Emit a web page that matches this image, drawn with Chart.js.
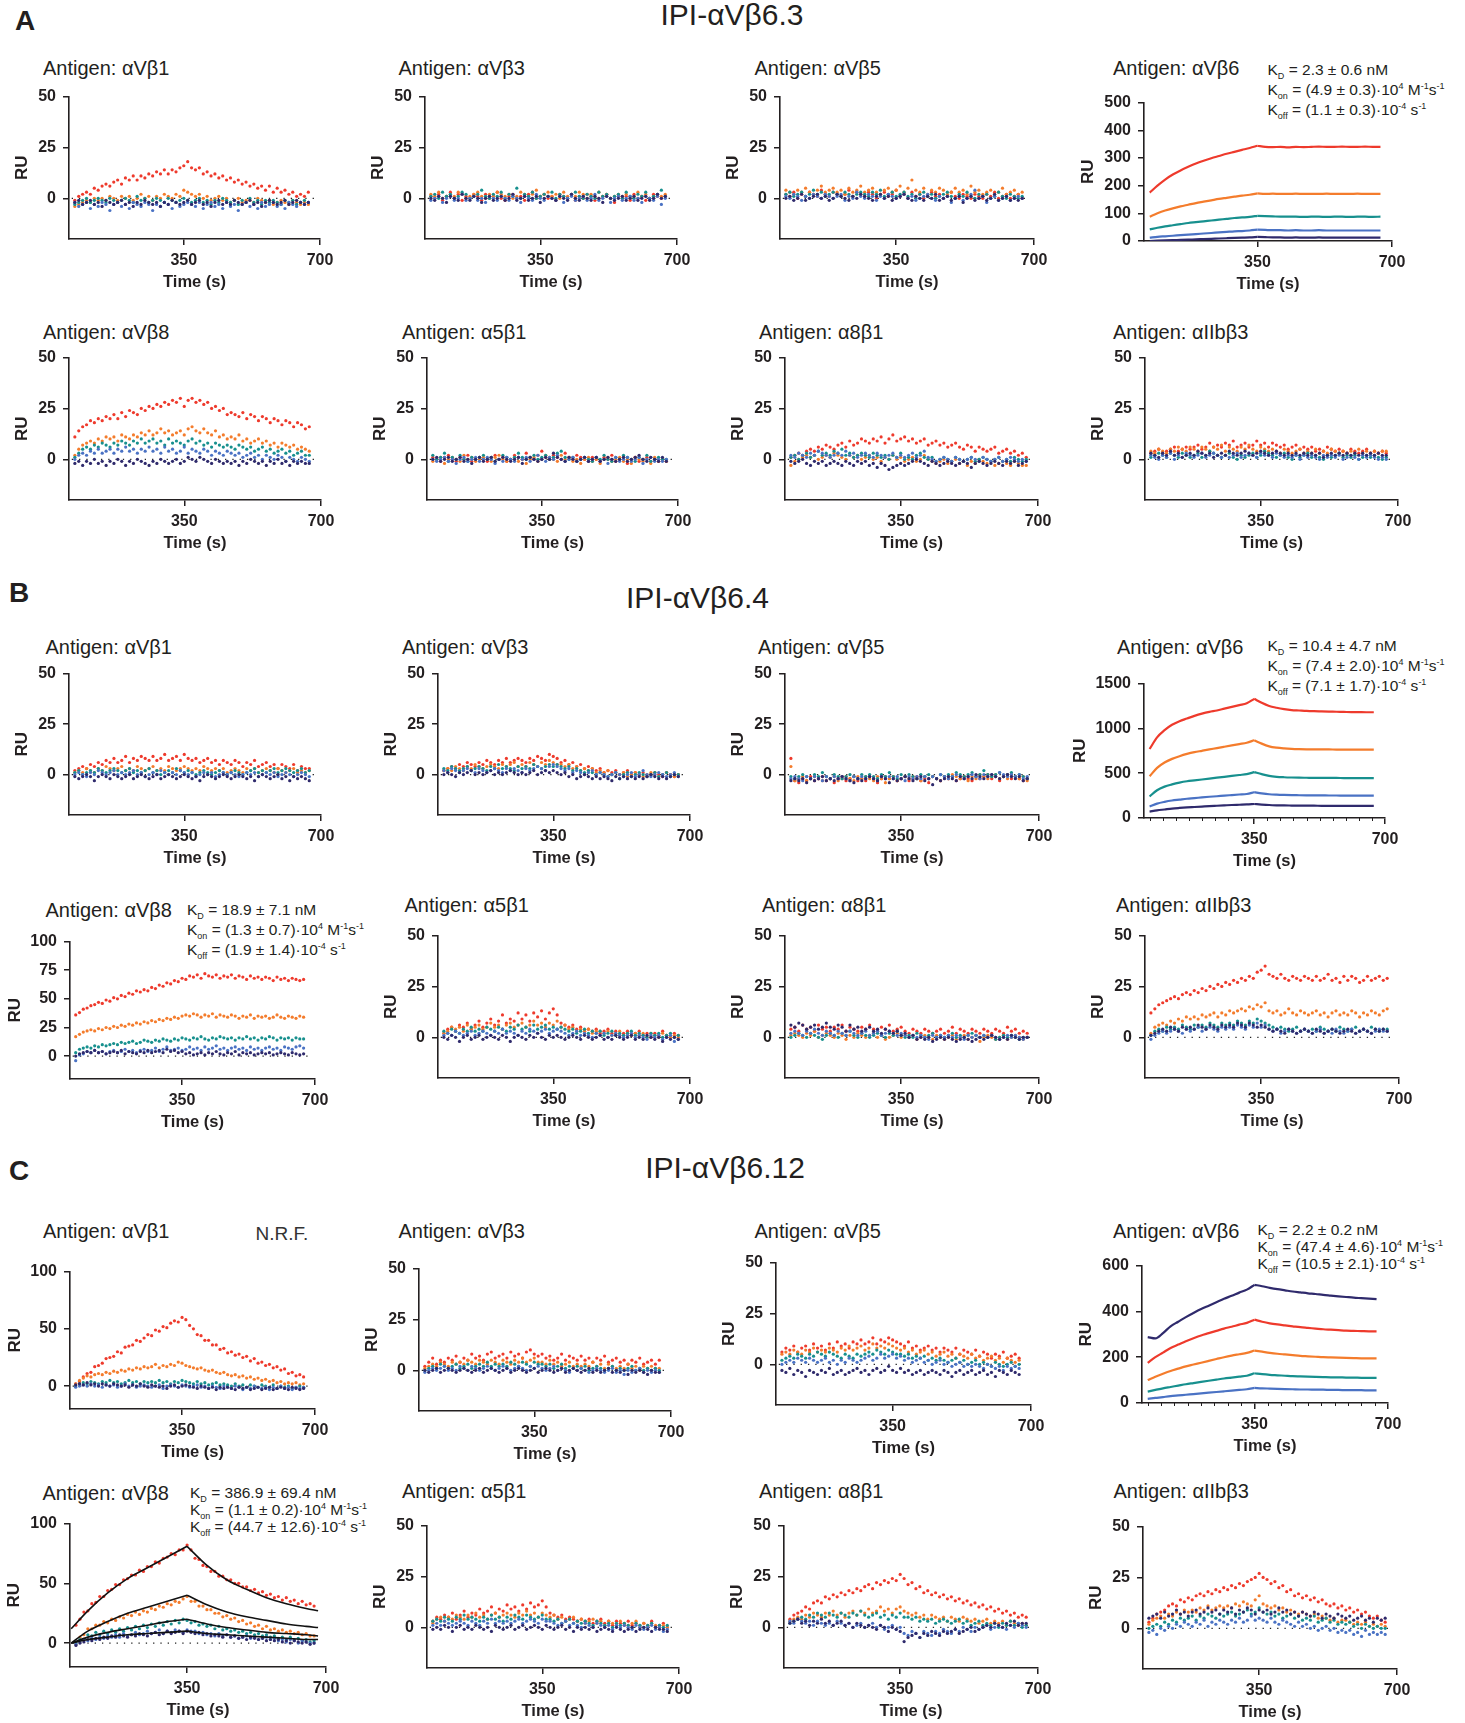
<!DOCTYPE html>
<html>
<head>
<meta charset="utf-8">
<script src="https://cdn.jsdelivr.net/npm/chart.js@4.4.1/dist/chart.umd.min.js"></script>
<style>
body { margin:0; background:#fff; }
#page { position:relative; width:1465px; height:1723px; overflow:hidden; font-family:'Liberation Sans', Arial, Helvetica, sans-serif; color:#231f20; }
canvas { position:absolute; }
.lbl { position:absolute; line-height:1; white-space:nowrap; transform:translateY(-50%); }
.letter { font-weight:bold; font-size:28px; }
.head { font-size:30px; transform:translate(-50%,-50%); }
.ptitle { font-size:20px; }
.nrf { font-size:19px; color:#333; }
.ann { font-size:15.5px; }
.ann sub { font-size:9px; vertical-align:-4px; line-height:0; }
.ann sup { font-size:9px; vertical-align:6px; line-height:0; }
</style>
</head>
<body>
<div id="page"></div>
<script>
// sample times (s): dotted traces every 10 s, smooth traces every 20 s
const t = [70, 80, 90, 100, 110, 120, 130, 140, 150, 160, 170, 180, 190, 200, 210, 220, 230, 240, 250, 260,
           270, 280, 290, 300, 310, 320, 330, 340, 350, 360, 370, 380, 390, 400, 410, 420, 430, 440, 450, 460,
           470, 480, 490, 500, 510, 520, 530, 540, 550, 560, 570, 580, 590, 600, 610, 620, 630, 640, 650, 660, 670];
const tLine = [70, 90, 110, 130, 150, 170, 190, 210, 230, 250, 270, 290, 310, 330, 350,
               370, 390, 410, 430, 450, 470, 490, 510, 530, 550, 570, 590, 610, 630, 650, 670];

const antibodies = ['IPI-αVβ6.3', 'IPI-αVβ6.4', 'IPI-αVβ6.12'];
const antigens = ['αVβ1', 'αVβ3', 'αVβ5', 'αVβ6', 'αVβ8', 'α5β1', 'α8β1', 'αIIbβ3'];
const concColors = ['#ee3a2c', '#f47c2c', '#17908e', '#4a72c4', '#2f2a6c']; // high -> low

const xTicks = [350, 700];
const xMinorTicks = [70, 105, 140, 175, 210, 245, 280, 315, 385, 420, 455, 490, 525, 560, 595, 630, 665];
const yTicks50 = [0, 25, 50];
const yTicks100 = [0, 25, 50, 75, 100];
const yTicks100b = [0, 50, 100];
const yTicks500 = [0, 100, 200, 300, 400, 500];
const yTicks1500 = [0, 500, 1000, 1500];
const yTicks600 = [0, 200, 400, 600];

// dotted zero reference line
const baseT = [62, 685];
const baseY = [0, 0];

// ---- IPI-aVb6.3 ---- each panel: [red, orange, teal, blue, purple]
const a1 = [
  [-1, 1, 2, 3, 2, 5, 4, 6, 7, 6, 8, 9, 7, 10, 9, 11, 9, 11, 10, 12, 11, 13, 12, 14, 12, 14, 13, 15, 16, 18, 15, 14, 15, 12, 13, 11, 12, 10, 11, 9, 10, 8, 9, 7, 8, 6, 7, 5, 6, 4, 6, 3, 5, 3, 4, 2, 3, 1, 2, 1, 3],
  [-4, -3, -2, -1, -2, 0, -1, 0, -1, 1, 0, -1, 1, 0, 1, -1, 0, 2, 0, 1, -1, 1, 0, 2, 1, 0, 2, 1, 4, 3, 2, 1, 2, 0, 1, -1, 0, 1, -1, 0, -2, -1, 0, -2, -1, -1, -2, 0, -1, -2, -1, -3, -2, -1, -2, -3, -1, -2, -3, -2, -3],
  [-3, -2, -1, 0, -2, -1, 0, -1, -2, 0, -1, -2, -1, 0, -1, -2, 1, -1, 0, -2, -1, 0, -1, -2, 0, -1, -2, -1, 0, -1, -2, -1, 0, -2, -1, -3, -1, -2, 0, -1, -2, -1, -3, -1, -2, 0, -2, -1, -3, -1, -2, -1, -2, -3, -1, -2, -1, -3, -2, -1, -2],
  [-2, -4, -3, -2, -5, -3, -4, -2, -3, -6, -3, -2, -4, -3, -5, -2, -3, -4, -2, -3, -6, -3, -4, -2, -3, -5, -2, -4, -3, -2, -3, -4, -2, -5, -3, -2, -4, -3, -5, -2, -4, -3, -6, -3, -2, -4, -3, -5, -2, -4, -3, -2, -4, -3, -5, -2, -3, -4, -2, -3, -2],
  [-2, -1, -3, -2, -1, -3, -2, -4, -1, -2, -3, -2, -1, -3, -2, -4, -2, -3, -1, -2, -3, -2, -4, -2, -3, -1, -2, -3, -2, -1, -3, -2, -1, -3, -2, -4, -2, -1, -3, -2, -3, -1, -2, -3, -2, -1, -3, -2, -4, -2, -1, -2, -3, -2, -1, -3, -2, -1, -2, -3, -2]
];
const a2 = [
  [1, 0, 2, -1, 1, 3, 0, 2, -1, 1, 0, 2, 1, -1, 2, 0, 1, 3, 0, -1, 1, 2, 0, 1, -1, 2, 3, 0, 1, 2, 0, 1, -1, 2, 1, 0, 2, -1, 1, 0, 2, 1, -1, 0, 1, 2, 0, -2, 1, 0, 1, -1, 2, 0, 1, -1, 0, 2, 1, 0, 1],
  [2, 1, 3, 0, 1, 2, 1, 3, 2, 0, 1, 2, 3, 1, 0, 2, 1, 3, 2, 1, 2, 0, 1, 3, 2, 1, 2, 4, 1, 2, 3, 1, 2, 0, 3, 1, 2, 1, 3, 2, 0, 2, 1, 3, 1, 2, 0, 1, 2, 1, 2, 0, 1, 3, 1, 2, 0, 1, 2, 1, 2],
  [1, 2, 0, 3, 1, 2, 0, 1, 3, 2, 0, 1, 2, 4, 1, 0, 2, 1, 3, 0, 2, 1, 5, 0, 2, 1, 3, 0, 1, 2, 1, 3, 0, 2, 1, 0, 2, 3, 1, 0, 2, 1, 0, 3, 1, 2, 0, 1, 2, 0, 3, 1, 0, 2, 1, 3, 0, 1, 2, 4, 1],
  [-1, 0, 1, -2, 0, 1, -1, 0, 2, -1, 0, 1, -1, 0, -2, 1, 0, -1, 1, 0, -1, 1, 0, -2, 1, 0, -1, 2, 0, -1, 1, 0, -1, 1, -2, 0, 1, -1, 0, 1, -1, 0, 2, -1, 0, 1, -2, 0, 1, -1, 0, 1, -1, 0, -2, 1, 0, -1, 1, -3, 0],
  [0, -1, 1, 0, -2, 1, 0, -1, 2, 0, -1, 1, 0, -2, 0, 1, -1, 0, 1, -1, 0, 2, -1, 0, 1, -1, 0, 1, -2, 0, 1, 0, -1, 1, 0, -1, 2, 0, -1, 1, 0, -1, 1, 0, -2, 1, 0, -1, 0, 1, -1, 0, 1, -1, 0, 1, -1, 0, 2, 0, 1]
];
const a3 = [
  [2, 1, 3, 0, 2, 1, 3, 2, 1, 4, 2, 1, 3, 2, 1, 2, 4, 1, 3, 2, 1, 3, 2, 0, 2, 3, 1, 2, 4, 1, 2, 0, 3, 1, 2, 0, 1, 3, 1, 2, 0, 1, 3, 1, 0, 2, 1, 0, 2, 1, 0, 2, 1, 3, 0, 1, 2, 0, 1, 2, 0],
  [4, 3, 2, 4, 3, 5, 3, 2, 4, 6, 3, 4, 5, 3, 4, 2, 5, 3, 4, 6, 3, 4, 5, 3, 2, 4, 5, 3, 4, 6, 3, 5, 9, 4, 3, 5, 2, 4, 3, 5, 4, 2, 3, 5, 3, 4, 2, 6, 3, 4, 2, 3, 4, 2, 3, 5, 2, 3, 4, 2, 3],
  [2, 3, 1, 2, 3, 1, 2, 4, 2, 3, 1, 2, 3, 2, 1, 3, 2, 1, 2, 3, 2, 1, 3, 2, 4, 1, 2, 3, 1, 2, 3, 1, 2, 0, 2, 3, 1, 2, 0, 1, 2, 3, 1, 0, 2, 1, 3, 1, 0, 2, 1, 2, 0, 1, 3, 1, 0, 2, 1, 0, 1],
  [1, 0, 2, 1, -1, 1, 0, 2, 1, 0, 2, 1, 0, 1, 2, -1, 1, 0, 3, 1, 0, 2, 1, -1, 1, 0, 2, 1, 0, 1, 2, 0, 1, -1, 0, 1, 2, 0, -1, 1, 0, 1, -2, 0, 1, -1, 0, 2, 4, 0, 1, -2, 0, 1, -1, 0, 1, -1, 0, 1, 0],
  [0, 1, -1, 0, 2, -1, 0, 1, 2, 0, 1, -1, 0, 2, 1, 0, -1, 1, 0, 2, 1, 0, -1, 1, 2, 0, 1, -1, 0, 1, 2, 0, -1, 1, 0, -1, 1, 0, 2, -1, 0, 1, -1, 0, 1, -2, 0, 1, -1, 0, 1, -1, 0, 2, -1, 0, 1, -1, 0, -1, 0]
];
const a4 = [
  [175, 200, 222, 240, 255, 268, 280, 290, 299, 307, 315, 322, 329, 336, 344, 340, 339, 340, 338, 340, 339, 340, 341, 340, 340, 341, 340, 340, 341, 340, 340],
  [88, 100, 110, 118, 125, 131, 137, 142, 147, 152, 156, 160, 164, 167, 172, 170, 171, 170, 170, 171, 170, 170, 170, 171, 170, 170, 170, 171, 170, 170, 170],
  [42, 48, 53, 57, 61, 65, 68, 71, 74, 77, 80, 83, 85, 87, 91, 90, 89, 88, 88, 88, 87, 88, 88, 87, 88, 88, 87, 88, 88, 87, 88],
  [12, 15, 17, 19, 21, 23, 25, 27, 29, 31, 33, 35, 36, 38, 41, 40, 39, 39, 38, 39, 38, 38, 39, 38, 38, 38, 38, 38, 38, 38, 38],
  [0, 1, 2, 3, 4, 5, 6, 7, 8, 9, 10, 11, 12, 13, 15, 14, 13, 13, 12, 13, 12, 12, 13, 12, 12, 12, 12, 12, 12, 12, 12]
];
const a5 = [
  [11, 14, 16, 17, 19, 18, 20, 19, 21, 20, 22, 20, 23, 21, 24, 23, 22, 25, 24, 26, 25, 27, 26, 28, 27, 29, 28, 30, 26, 29, 30, 28, 29, 27, 28, 25, 26, 24, 25, 22, 23, 22, 21, 23, 20, 22, 21, 19, 21, 20, 18, 20, 19, 17, 19, 18, 16, 18, 17, 15, 16],
  [2, 5, 7, 8, 9, 8, 10, 9, 11, 10, 11, 9, 12, 11, 10, 12, 11, 13, 12, 14, 12, 13, 15, 13, 14, 12, 13, 14, 12, 15, 16, 14, 13, 15, 13, 12, 14, 11, 12, 10, 11, 10, 12, 9, 10, 8, 9, 10, 8, 9, 7, 8, 6, 8, 7, 6, 7, 5, 6, 5, 4],
  [1, 3, 5, 6, 5, 7, 6, 8, 7, 6, 8, 7, 9, 8, 7, 9, 8, 10, 8, 9, 10, 8, 9, 7, 10, 8, 9, 8, 7, 9, 10, 8, 9, 7, 8, 6, 8, 7, 6, 7, 6, 5, 7, 6, 5, 6, 4, 5, 6, 4, 5, 3, 4, 5, 3, 4, 2, 3, 4, 2, 2],
  [0, 2, 3, 2, 4, 3, 5, 3, 4, 5, 3, 5, 4, 6, 4, 5, 3, 5, 4, 6, 4, 5, 3, 6, 4, 5, 3, 4, 6, 3, 5, 4, 3, 5, 4, 2, 4, 3, 2, 4, 3, 2, 3, 1, 2, 3, 1, 2, 0, 2, 1, 0, 2, 1, -1, 1, 0, -1, 1, 0, -1],
  [-2, -1, -3, -1, -2, 0, -2, -1, -3, -1, -2, 0, -1, -3, -1, -2, 0, -1, -2, -3, -1, -2, 0, -1, -2, -1, 0, -2, -1, 1, 0, -1, 1, 0, -1, -2, 0, -1, -2, -1, -2, -1, -3, -1, -2, 0, -1, -2, -1, -3, -1, -2, 0, -2, -1, -3, -1, -2, -1, -2, -2]
];
const a6 = [
  [1, 0, -1, 1, 2, 0, -1, 1, 0, 2, -1, 0, 1, 0, -1, 1, 2, 0, 1, -1, 0, 2, 1, 0, 3, 1, 0, 2, 4, 1, 0, 2, 1, 0, 3, 1, 0, 2, 1, 0, -1, 1, 0, -1, 1, 0, 2, -1, 0, 1, -2, 0, 1, -1, 0, 1, -1, 0, -1, 0, -1],
  [-1, 0, 1, -2, 0, 1, 0, -1, 2, 0, 1, -1, 0, 1, 0, -1, 1, 2, 0, -1, 0, 1, -1, 0, -2, 0, 1, -1, 0, 2, 1, 0, -1, 2, 0, 1, -1, 0, -2, 0, 1, -1, 0, -2, 0, 1, -1, 0, 1, -1, 0, -2, 1, 0, -1, 0, -2, 1, -1, 0, -1],
  [2, 0, 1, 3, -1, 1, 0, 2, 0, -1, 1, 0, 1, 2, 0, 1, -1, 0, 2, 1, 0, 1, 3, 1, 0, 1, 2, 0, 1, 2, 0, 1, 3, 4, 1, 0, 1, -1, 0, 1, 0, -1, 1, 0, 2, 0, -1, 1, 0, 2, 1, 0, -1, 1, 0, 2, -1, 0, 1, 0, 0],
  [0, -1, 0, 1, -1, 0, -2, 0, 1, -1, 0, 1, -1, 0, 1, 0, -2, 0, -1, 1, 0, -1, 1, 0, 1, -1, 0, 2, 0, -1, 1, 0, 2, 0, -1, 0, 1, -1, 0, 1, -1, 0, 1, -1, 0, -2, 0, 1, -1, 0, 1, -1, 0, 1, -2, 0, 1, -1, 0, -1, 0],
  [0, 1, -1, 0, 1, -1, 0, 1, -1, 0, -2, 0, 1, -1, 0, 1, -1, 0, 1, 0, -1, 0, 1, -2, 0, 1, 0, -1, 0, 1, 0, 3, 1, 0, -1, 1, 0, -1, 0, 1, -1, 0, 1, -1, 0, 1, 0, -1, 0, 1, -1, 0, 1, 2, 0, -1, 1, 0, -1, 1, -1]
];
const a7 = [
  [1, 2, 3, 2, 4, 5, 4, 6, 5, 7, 6, 5, 7, 8, 6, 9, 7, 8, 10, 9, 8, 10, 9, 11, 8, 10, 12, 9, 10, 11, 9, 10, 8, 9, 10, 7, 8, 9, 7, 8, 6, 7, 8, 6, 5, 7, 6, 4, 6, 5, 4, 5, 6, 3, 4, 5, 3, 4, 2, 3, 1],
  [-3, -1, 0, 1, 2, 1, 2, 0, 1, 2, 1, 3, 2, 1, 0, 2, 1, 2, 0, 1, 2, 0, 1, -1, 1, 0, 2, 0, 1, -1, 0, 1, -1, 0, 2, 0, -1, -2, -1, 0, -2, -1, 0, -2, -1, -3, -1, -2, 0, -1, -2, -1, -3, -2, -1, -2, -3, -1, -2, -3, -3],
  [1, 2, 0, 2, 3, 1, 2, 4, 2, 3, 2, 4, 3, 5, 2, 3, 1, 2, 3, 2, 1, 3, 2, 1, 2, 0, 2, 1, 3, 0, 1, 0, 2, 3, 1, 0, 1, -1, 0, 1, 0, -1, 1, 0, -1, 0, 1, -1, 0, 1, 0, -1, 0, 1, -1, 0, -1, 1, 0, -1, 0],
  [2, 1, 3, 2, 1, 3, 2, 4, 3, 2, 1, 2, 3, 2, 4, 2, 3, 1, 2, 3, 2, 1, 3, 2, 1, 2, 3, 1, 2, 1, 2, 3, 1, 2, 4, 1, 0, -1, 0, 1, 0, -1, 1, 0, -1, 0, 1, 0, -1, 1, 0, -1, 0, 1, -1, 0, 1, 0, -1, 0, -1],
  [-1, -2, -1, 0, -2, -3, -1, -2, -1, -3, -2, -1, -2, -3, -1, -2, -3, -1, -2, -1, -3, -2, -4, -2, -3, -5, -4, -3, -2, -3, -2, -1, 0, -1, -2, -3, -1, -2, -3, -2, -1, -2, -3, -2, -1, -2, -4, -2, -1, -2, -3, -2, -1, -2, -3, -1, -2, -1, -3, -2, -1]
];
const a8 = [
  [3, 4, 5, 3, 4, 5, 6, 4, 5, 6, 5, 6, 7, 5, 6, 8, 6, 7, 6, 8, 7, 9, 6, 7, 8, 6, 7, 9, 7, 8, 6, 8, 7, 6, 7, 5, 6, 7, 5, 6, 5, 6, 4, 5, 4, 6, 5, 4, 5, 4, 3, 5, 4, 3, 4, 5, 3, 4, 3, 4, 3],
  [4, 3, 5, 4, 3, 5, 4, 6, 5, 4, 6, 5, 4, 6, 5, 4, 6, 5, 7, 4, 6, 5, 4, 6, 5, 7, 5, 4, 6, 5, 4, 5, 4, 3, 5, 4, 3, 4, 5, 3, 4, 3, 5, 3, 4, 3, 5, 4, 3, 4, 3, 4, 3, 5, 3, 4, 3, 4, 3, 4, 4],
  [1, 2, 3, 2, 1, 3, 2, 1, 3, 2, 1, 2, 3, 1, 2, 4, 3, 2, 1, 2, 3, 1, 0, 2, 1, 2, 3, 1, 2, 4, 3, 2, 1, 2, 3, 1, 0, 2, 1, 2, 3, 1, 2, 1, 0, 2, 1, 2, 3, 1, 2, 1, 2, 0, 1, 2, 1, 2, 1, 0, 1],
  [2, 1, 0, 2, 1, 3, 0, 2, 1, 3, 2, 1, 2, 3, 1, 2, 3, 2, 1, 2, 1, 2, 3, 1, 2, 3, 2, 1, 3, 2, 2, 1, 3, 2, 1, 2, 1, 2, 0, 2, 1, 2, 1, 0, 2, 1, 2, 1, 2, 0, 1, 2, 1, 0, 2, 1, 2, 1, 0, 1, 0],
  [3, 2, 1, 3, 2, 4, 2, 3, 1, 2, 3, 2, 4, 3, 2, 3, 1, 2, 3, 2, 4, 3, 2, 3, 4, 3, 2, 3, 4, 3, 2, 3, 4, 3, 2, 3, 2, 3, 2, 3, 2, 3, 2, 3, 1, 2, 3, 2, 3, 2, 3, 2, 3, 2, 3, 2, 3, 2, 3, 2, 2]
];

// ---- IPI-aVb6.4 ----
const b1 = [
  [2, 3, 4, 3, 5, 4, 6, 5, 7, 6, 8, 6, 7, 9, 6, 8, 7, 9, 8, 7, 9, 7, 8, 10, 7, 8, 9, 7, 10, 8, 7, 8, 6, 7, 8, 6, 7, 5, 7, 6, 5, 7, 6, 4, 6, 5, 7, 4, 5, 6, 4, 5, 3, 5, 4, 3, 5, 2, 4, 3, 3],
  [1, 2, 1, 3, 2, 1, 3, 2, 4, 3, 2, 3, 4, 2, 3, 2, 4, 3, 2, 3, 4, 2, 3, 2, 4, 3, 2, 3, 4, 3, 2, 3, 2, 4, 3, 2, 3, 2, 3, 1, 2, 3, 2, 1, 3, 2, 3, 1, 2, 3, 2, 1, 3, 2, 1, 2, 3, 1, 2, 1, 2],
  [1, 2, 0, 1, 2, 1, 3, 2, 1, 2, 3, 2, 1, 2, 3, 1, 2, 1, 2, 3, 1, 2, 0, 1, 2, 1, 3, 2, 1, 2, 1, 0, 1, 2, 1, 0, 1, 2, 1, 0, 1, 2, 1, 0, 1, 2, 3, 1, 2, 1, 2, 3, 1, 2, 3, 2, 1, 2, 3, 1, 2],
  [0, 1, 0, -1, 1, 0, 2, 1, 0, 1, 2, 0, 1, 0, 1, 2, 0, 1, -1, 0, 1, 0, 2, 1, 0, 1, 0, 2, 1, 0, 1, -1, 0, 1, 0, 1, -1, 0, 1, 0, 1, 0, -1, 0, 1, 0, 1, -1, 0, 1, 0, 1, -1, 0, 1, 0, -1, 0, 1, 0, -1],
  [-1, -2, -1, 0, -1, -3, -1, 0, -1, -2, 0, -1, -2, -1, 0, -2, -1, 0, -1, -2, -1, 0, -2, -1, 0, -1, -2, -1, 0, -1, -2, -1, -3, -1, 0, -1, -2, -1, 0, -1, -2, -1, 0, -1, -2, -1, -3, -1, 0, -1, -2, -1, 0, -2, -1, -3, -1, -2, -1, -2, -3]
];
const b2 = [
  [2, 3, 4, 3, 5, 4, 6, 5, 4, 6, 5, 7, 6, 5, 7, 6, 8, 6, 7, 8, 7, 6, 8, 7, 9, 8, 7, 10, 9, 8, 6, 7, 5, 6, 4, 5, 3, 4, 3, 2, 3, 1, 2, 1, 2, 0, 1, 2, 0, 1, 0, 1, -1, 0, 1, 0, -1, 1, 0, -1, 0],
  [2, 3, 2, 4, 3, 2, 4, 3, 5, 4, 3, 4, 5, 4, 3, 5, 4, 5, 6, 4, 5, 4, 6, 5, 4, 6, 5, 7, 6, 5, 5, 4, 5, 3, 4, 2, 3, 2, 3, 1, 2, 1, 2, 0, 1, 0, 1, -1, 0, 1, 0, -1, 0, 1, 0, -1, 0, 1, 0, -1, 0],
  [3, 2, 4, 3, 2, 3, 4, 2, 3, 4, 3, 2, 4, 3, 5, 3, 4, 3, 2, 4, 3, 4, 3, 5, 4, 3, 4, 5, 4, 5, 4, 3, 4, 2, 3, 2, 1, 2, 1, 0, 1, 0, -1, 0, 1, -2, 0, 1, -1, 0, 1, 0, -1, 0, 1, -1, 0, 1, -1, 0, 0],
  [2, 1, 3, 2, 1, 2, 3, 2, 1, 3, 2, 1, 2, 3, 2, 1, 3, 2, 3, 2, 1, 3, 2, 3, 4, 3, 2, 4, 5, 4, 3, 2, 3, 1, 2, 1, 0, 1, 2, 0, 1, 0, -1, 0, 1, 0, -1, 0, 1, -1, 0, 2, 0, -1, 0, 1, 0, -1, 0, 1, -1],
  [0, 1, 0, -1, 1, 0, 1, 2, 0, 1, 0, 1, 2, 0, 1, 0, 1, 2, 1, 0, 1, 0, 1, 2, 0, 1, 2, 1, 2, 1, 0, 1, -1, 0, -2, -1, 0, -1, -2, -1, -2, -1, -2, -3, -1, -2, -1, -2, -1, -2, -1, -2, -1, 0, -1, -2, -1, -2, -1, 0, -1]
];
const b3 = [
  [8, -3, -4, -2, -3, -1, -3, -2, -1, -3, -2, -4, -2, -1, -3, -2, -1, -3, -2, -3, -1, -2, -4, -2, -1, -2, -1, -3, -2, -1, -3, -2, -1, -3, -2, -4, -1, -2, -3, -1, -2, -1, -3, -2, -1, -2, -3, -1, -2, -1, 0, -2, -1, -3, -1, 0, -2, -1, -2, -3, -2],
  [4, -3, -2, -1, -3, -2, -1, -2, -3, -1, -2, -1, -3, -2, -1, -2, -3, -1, -2, -1, -2, -3, -1, -2, -4, -2, -1, -3, -2, -1, -2, -1, -2, -3, -1, -2, -1, -2, -3, -1, -2, 0, -1, -2, -1, -3, -1, -2, 0, -1, -2, -1, 0, -2, -1, -2, 0, -1, -2, -1, -3],
  [-1, -2, -1, 0, -1, -2, 0, -1, 1, -1, -2, 0, -1, -2, -1, 0, -1, -2, 0, -1, 0, -1, -2, 0, -1, 1, -1, -2, 0, -1, 0, -1, -2, 0, -1, 0, -1, -2, 0, -1, 0, -1, 1, 0, -1, 0, 1, -1, 0, 2, 0, -1, 0, 1, -1, 0, 1, -1, 0, -1, -2],
  [-2, -1, -2, -3, -1, -2, -1, -2, -3, -1, -2, -1, -2, -1, -2, -3, -1, -2, -1, -2, -1, -2, -3, -1, -2, -1, -2, -1, -2, -3, -1, -2, -1, -2, -1, -2, -1, -2, 0, -1, -2, -1, 0, -1, -2, -1, 0, -1, -2, 0, -1, 0, -1, 1, 0, -1, 0, -1, 0, -2, -1],
  [-3, -2, -3, -2, -4, -2, -3, -2, -1, -3, -2, -3, -2, -1, -2, -3, -4, -2, -3, -2, -1, -2, -3, -1, -2, -4, -2, -3, -2, -1, -2, -3, -2, -1, -3, -2, -5, -2, -3, -2, -1, -2, -3, -1, -2, -1, -2, 0, -1, -2, -1, 0, -1, -2, -1, 0, -1, -2, -1, -3, -2]
];
const b4 = [
  [770, 900, 980, 1040, 1080, 1110, 1140, 1165, 1185, 1200, 1220, 1240, 1260, 1280, 1330, 1285, 1250, 1230, 1215, 1205, 1200, 1195, 1192, 1190, 1188, 1186, 1184, 1182, 1181, 1180, 1180],
  [465, 560, 620, 660, 690, 715, 735, 750, 765, 780, 795, 810, 825, 840, 868, 830, 800, 785, 777, 772, 769, 767, 766, 765, 765, 764, 764, 763, 763, 763, 762],
  [240, 310, 350, 375, 395, 410, 420, 430, 440, 450, 460, 470, 480, 490, 512, 490, 470, 460, 455, 452, 450, 449, 448, 448, 447, 447, 446, 446, 446, 445, 445],
  [128, 160, 180, 195, 205, 215, 222, 230, 237, 243, 250, 256, 262, 268, 288, 275, 265, 260, 257, 255, 254, 253, 252, 252, 251, 251, 250, 250, 250, 249, 249],
  [72, 85, 95, 105, 112, 118, 123, 128, 133, 137, 141, 145, 148, 151, 156, 150, 145, 142, 140, 139, 138, 137, 137, 136, 136, 136, 135, 135, 135, 135, 135]
];
const b5 = [
  [36, 38, 41, 42, 44, 45, 47, 46, 49, 48, 51, 50, 53, 52, 55, 54, 57, 56, 58, 57, 60, 59, 62, 61, 64, 63, 66, 65, 68, 67, 70, 69, 71, 68, 72, 70, 69, 71, 68, 70, 69, 71, 68, 70, 69, 67, 70, 68, 69, 67, 69, 68, 66, 69, 67, 68, 66, 68, 67, 66, 67],
  [17, 19, 21, 22, 23, 22, 24, 23, 25, 24, 26, 25, 27, 26, 28, 27, 29, 28, 30, 29, 31, 30, 32, 31, 33, 32, 34, 33, 35, 36, 35, 37, 36, 34, 36, 35, 37, 34, 36, 35, 34, 36, 35, 33, 35, 34, 36, 33, 35, 34, 35, 33, 34, 36, 34, 33, 35, 34, 33, 35, 34],
  [3, 6, 7, 8, 7, 9, 8, 10, 9, 10, 11, 10, 12, 11, 12, 13, 11, 12, 14, 13, 12, 14, 13, 15, 14, 13, 15, 14, 16, 15, 14, 16, 15, 17, 15, 14, 16, 15, 17, 16, 15, 16, 14, 16, 15, 17, 15, 16, 14, 16, 15, 17, 16, 14, 16, 15, 16, 14, 16, 15, 15],
  [-4, 1, 2, 4, 3, 5, 3, 4, 2, 4, 5, 3, 4, 6, 4, 5, 3, 5, 6, 4, 5, 7, 4, 6, 8, 5, 6, 7, 5, 6, 8, 6, 7, 5, 8, 6, 7, 9, 6, 7, 5, 7, 8, 6, 7, 5, 8, 6, 7, 5, 7, 8, 6, 7, 5, 8, 7, 6, 8, 9, 7],
  [0, 2, 3, 4, 3, 5, 3, 4, 2, 3, 4, 3, 5, 2, 4, 3, 2, 4, 3, 5, 3, 4, 5, 3, 6, 4, 5, 3, 4, 2, 3, 1, 2, 3, 1, 3, 2, 4, 2, 1, 3, 2, 4, 1, 3, 2, 3, 1, 2, 3, 2, 3, 1, 2, 3, 2, 1, 3, 2, 1, 2]
];
const b6 = [
  [2, 4, 5, 3, 6, 5, 7, 4, 6, 8, 5, 7, 9, 6, 8, 11, 7, 9, 8, 12, 9, 11, 8, 12, 10, 13, 9, 12, 14, 11, 7, 6, 5, 6, 4, 5, 3, 4, 3, 4, 2, 3, 4, 2, 3, 1, 2, 3, 1, 2, 3, 1, 2, 0, 2, 1, 3, 1, 0, 2, 1],
  [2, 3, 5, 4, 5, 3, 6, 4, 5, 6, 4, 5, 7, 5, 6, 4, 6, 7, 5, 6, 7, 5, 6, 8, 6, 7, 5, 7, 6, 8, 5, 6, 4, 5, 3, 4, 3, 4, 2, 3, 3, 2, 3, 1, 2, 3, 1, 2, 1, 2, 1, 2, 0, 2, 1, 0, 2, 1, 0, 1, 0],
  [3, 2, 4, 3, 2, 4, 3, 5, 3, 4, 3, 5, 4, 3, 5, 4, 3, 5, 4, 6, 4, 5, 3, 6, 4, 5, 6, 4, 5, 4, 5, 4, 3, 4, 2, 3, 4, 2, 3, 2, 3, 1, 2, 3, 1, 2, 1, 2, 3, 1, 2, 1, 0, 2, 1, 2, 0, 1, 2, 0, 1],
  [1, 2, 1, 3, 2, 1, 2, 3, 1, 2, 3, 2, 1, 3, 2, 4, 2, 3, 2, 1, 3, 2, 4, 3, 2, 3, 4, 2, 3, 4, 3, 2, 1, 2, 3, 1, 2, 1, 0, 2, 1, 2, 0, 1, 2, 1, 0, 1, 2, 0, 1, 0, -1, 1, 0, 1, -1, 0, 1, -2, -1],
  [0, -1, 1, 0, -2, 0, 1, -1, 0, 1, -1, 0, 1, 0, -1, 1, 0, -2, 0, 1, 0, -1, 1, 0, 2, 0, -1, 1, 0, 1, 0, -1, 0, 1, 0, -1, 1, 0, -1, 0, 1, -1, 0, -1, 1, 0, -1, 0, 1, -1, 0, -1, 1, 0, -1, 0, -2, 0, -1, 0, -1]
];
const b7 = [
  [4, 5, 3, 6, 4, 5, 3, 6, 4, 5, 3, 5, 4, 6, 3, 5, 4, 3, 5, 4, 6, 4, 3, 5, 4, 6, 3, 4, 5, 3, 2, 4, 3, 2, 4, 3, 2, 3, 4, 2, 3, 5, 2, 4, 3, 2, 4, 3, 2, 4, 3, 2, 4, 3, 2, 5, 3, 4, 2, 3, 2],
  [1, 2, 1, 0, 2, 1, 3, 0, 1, 2, 1, 0, 2, 1, -1, 1, 0, 2, 1, 0, 1, 2, 0, 1, -1, 0, 1, 2, 0, 1, 0, 1, -1, 0, 1, 0, -1, 1, 0, -1, 0, 1, -1, 0, 1, -1, 0, 1, -2, 0, 1, 0, -1, 0, 1, -1, 0, 1, 0, -1, 0],
  [0, 1, 2, 1, 0, 2, 1, 0, -1, 1, 2, 1, 0, 2, 1, 3, 1, 0, 2, 1, 0, 1, 2, 1, 0, 2, 1, 3, 1, 0, 1, 0, 2, 1, 0, 1, 2, 0, 1, 0, 1, 2, 0, 1, 0, 1, 2, 1, 0, 1, 0, 1, -1, 0, 1, 0, 1, 0, -1, 0, 0],
  [2, 3, 2, 1, 3, 2, 4, 2, 1, 3, 2, 1, 3, 2, 1, 3, 2, 1, 2, 3, 1, 2, 3, 1, 2, 3, 2, 1, 2, 1, 0, 1, 0, 1, 0, -1, 1, 0, 1, 0, 1, 0, 1, 0, -1, 1, 0, 1, 0, 1, 0, 1, 0, -1, 0, 1, 0, 1, 0, -1, 0],
  [6, 5, 7, 6, 4, 5, 6, 4, 5, 7, 5, 4, 6, 5, 3, 6, 4, 5, 3, 4, 5, 3, 4, 2, 4, 3, 2, 3, 1, 2, 0, 1, -1, 0, -1, 0, -2, -1, 0, -1, 0, -1, -2, -1, 0, -1, -2, -1, 0, -1, 0, 1, 0, -1, 0, -1, 1, 0, -1, 0, 0]
];
const b8 = [
  [12, 14, 16, 17, 18, 19, 20, 19, 21, 22, 21, 23, 22, 24, 23, 25, 24, 26, 25, 27, 26, 28, 27, 29, 28, 30, 29, 32, 33, 35, 31, 30, 29, 31, 29, 28, 30, 29, 28, 30, 29, 28, 30, 28, 29, 31, 28, 29, 27, 30, 28, 30, 29, 27, 28, 30, 28, 29, 30, 28, 29],
  [2, 5, 6, 7, 6, 8, 7, 9, 8, 10, 9, 10, 9, 11, 10, 11, 12, 10, 12, 11, 13, 12, 13, 14, 13, 15, 14, 16, 15, 17, 13, 12, 13, 11, 12, 14, 12, 11, 13, 12, 11, 12, 13, 11, 12, 10, 12, 13, 11, 12, 11, 13, 12, 10, 12, 11, 13, 12, 11, 13, 14],
  [1, 3, 4, 3, 5, 4, 5, 4, 6, 5, 4, 6, 5, 6, 5, 7, 6, 5, 7, 6, 7, 6, 8, 7, 6, 8, 7, 9, 8, 7, 6, 5, 4, 5, 4, 3, 4, 5, 3, 4, 3, 4, 3, 5, 4, 3, 4, 3, 5, 4, 3, 4, 5, 3, 4, 3, 5, 4, 3, 4, 4],
  [-1, 1, 2, 3, 2, 3, 4, 3, 2, 4, 3, 4, 5, 3, 4, 5, 4, 3, 5, 4, 5, 4, 6, 5, 4, 6, 5, 7, 5, 6, 4, 3, 4, 2, 3, 4, 3, 2, 3, 4, 3, 2, 3, 4, 2, 3, 2, 4, 3, 2, 3, 4, 2, 3, 4, 3, 2, 3, 4, 3, 3],
  [1, 2, 3, 4, 3, 5, 4, 3, 5, 4, 5, 4, 6, 5, 4, 6, 5, 4, 6, 5, 6, 5, 7, 6, 5, 7, 6, 5, 6, 5, 4, 3, 4, 3, 2, 4, 3, 2, 3, 4, 3, 2, 4, 3, 2, 3, 4, 3, 2, 3, 4, 3, 2, 3, 4, 3, 2, 4, 3, 4, 3]
];

// ---- IPI-aVb6.12 ----
const c1 = [
  [2, 4, 8, 11, 12, 17, 18, 20, 24, 25, 26, 30, 29, 34, 35, 36, 40, 39, 42, 45, 44, 49, 48, 52, 51, 55, 57, 56, 60, 58, 53, 50, 45, 44, 40, 40, 36, 36, 32, 33, 29, 30, 27, 28, 25, 26, 22, 24, 20, 21, 18, 19, 16, 17, 14, 15, 11, 12, 9, 10, 8],
  [2, 5, 7, 9, 8, 10, 11, 10, 12, 11, 13, 12, 14, 13, 15, 14, 16, 15, 17, 16, 17, 19, 16, 18, 17, 19, 18, 21, 20, 18, 17, 16, 15, 16, 14, 13, 14, 12, 11, 12, 10, 9, 10, 8, 9, 7, 8, 6, 7, 5, 6, 4, 5, 3, 4, 2, 3, 2, 3, 1, 2],
  [0, 2, 3, 2, 4, 3, 2, 4, 3, 5, 3, 4, 2, 3, 5, 3, 4, 2, 4, 3, 4, 3, 5, 3, 4, 2, 4, 3, 5, 4, 3, 2, 4, 2, 3, 1, 2, 3, 1, 2, 1, 0, 2, 0, 1, -1, 1, 0, -1, 1, 0, -1, 1, -2, 0, -1, 0, -2, -1, 0, -1],
  [-1, 0, 1, 0, 2, 0, 1, -1, 1, 0, 1, -1, 0, 2, 0, 1, -1, 0, 1, 0, -1, 0, 1, -2, 0, 1, 0, -1, 1, 0, -1, 0, 1, -1, 0, -2, 0, -1, -2, 0, -1, -2, 0, -1, -3, -1, -2, 0, -1, -2, -1, -3, -1, -2, 0, -2, -1, -3, -1, -2, -1],
  [1, 2, 1, 3, 1, 2, 0, 2, 1, 0, 2, 1, 0, 1, -1, 1, 0, 2, 0, -1, 1, 0, -1, 0, -2, 0, 1, -1, 0, 1, 0, -1, -2, 0, -1, -2, -1, -3, -1, -2, -1, -2, -3, -1, -2, -1, -3, -2, -1, -3, -2, -1, -3, -2, -1, -2, -3, -1, -2, -3, -2]
];
const c2 = [
  [2, 4, 6, 3, 5, 4, 6, 5, 7, 4, 6, 5, 8, 6, 7, 5, 8, 9, 6, 7, 8, 6, 9, 7, 8, 6, 9, 10, 8, 7, 8, 6, 7, 5, 6, 8, 5, 7, 6, 5, 7, 5, 6, 4, 6, 5, 7, 4, 5, 6, 4, 5, 3, 5, 4, 6, 3, 4, 5, 3, 5],
  [1, 2, 3, 2, 4, 3, 2, 4, 3, 4, 3, 5, 4, 3, 5, 4, 3, 5, 4, 3, 5, 4, 3, 5, 4, 6, 4, 5, 6, 4, 4, 3, 5, 3, 4, 2, 3, 4, 2, 3, 2, 3, 2, 4, 2, 3, 1, 3, 2, 1, 2, 1, 3, 1, 2, 0, 2, 1, 2, 1, 1],
  [0, 1, 2, 1, 3, 2, 1, 2, 3, 1, 2, 3, 1, 2, 3, 2, 4, 2, 3, 2, 3, 2, 4, 3, 2, 4, 3, 2, 4, 3, 3, 2, 3, 1, 2, 3, 1, 2, 1, 2, 1, 2, 0, 1, 2, 1, 0, 1, 2, 0, 1, 0, 1, 2, 0, 1, 0, 1, 0, 1, 0],
  [-1, 0, 1, 0, 1, 2, 0, 1, 0, 2, 1, 0, 2, 1, 0, 1, 2, 1, 0, 1, 2, 1, 0, 1, 2, 1, 0, 2, 1, 2, 1, 0, 1, 2, 0, 1, 0, -1, 1, 0, 1, 0, -1, 0, 1, 0, -1, 0, 1, -1, 0, -2, 0, -1, 0, 1, -1, 0, -1, 0, -1],
  [0, -1, 0, 1, -1, 0, 1, 0, -1, 0, 1, 0, -1, 0, 1, -1, 0, 1, 0, -1, 0, 1, -1, 0, 1, 0, -1, 0, 1, -1, 0, 1, 0, -1, 0, 1, -1, 0, 1, 0, -1, 0, 1, -1, 0, -1, 0, 1, -1, 0, -1, 0, -2, 0, -1, 0, -1, -2, 0, -1, -1]
];
const c3 = [
  [6, 8, 7, 9, 6, 8, 9, 7, 10, 8, 9, 7, 10, 8, 11, 9, 10, 8, 11, 10, 12, 10, 11, 13, 10, 12, 11, 13, 12, 11, 10, 9, 11, 8, 9, 7, 8, 9, 7, 8, 6, 8, 7, 6, 8, 5, 7, 6, 5, 7, 4, 6, 5, 3, 5, 4, 6, 3, 4, 5, 3],
  [5, 6, 5, 7, 6, 5, 7, 6, 8, 6, 7, 6, 8, 7, 6, 8, 7, 9, 7, 8, 9, 7, 8, 10, 8, 9, 8, 10, 9, 8, 7, 8, 6, 7, 5, 6, 7, 5, 6, 4, 5, 6, 4, 5, 3, 5, 4, 3, 5, 3, 4, 2, 3, 4, 2, 3, 1, 3, 2, 1, 2],
  [2, 3, 4, 3, 5, 4, 3, 5, 4, 6, 5, 4, 6, 5, 4, 3, 5, 4, 3, 5, 4, 5, 6, 5, 7, 6, 5, 7, 6, 5, 5, 4, 5, 3, 4, 3, 4, 2, 3, 2, 3, 2, 1, 2, 3, 1, 2, 0, 1, 2, 0, 1, 0, -1, 1, 0, -1, 0, 1, -1, 0],
  [0, 1, 2, 1, 3, 2, 1, 3, 2, 1, 2, 3, 1, 2, 0, 2, 1, 3, 2, 1, 2, 3, 4, 2, 3, 5, 3, 4, 5, 3, 4, 2, 3, 1, 2, 3, 1, 2, 0, 1, 2, 0, 1, -1, 0, 1, -1, 0, -1, 0, -1, -2, 0, -1, -2, -1, -3, -1, -2, -1, -2],
  [-3, -4, -2, -5, -3, -4, -6, -3, -4, -5, -3, -4, -2, -5, -4, -3, -5, -4, -3, -2, -4, -3, -5, -3, -2, -4, -3, -1, -3, -4, -2, -4, -3, -5, -4, -3, -5, -4, -3, -4, -5, -3, -4, -6, -4, -3, -5, -4, -3, -5, -4, -3, -5, -4, -6, -3, -4, -5, -3, -4, -5]
];
const c4 = [
  [175, 200, 220, 240, 255, 270, 283, 295, 305, 315, 325, 333, 342, 350, 364, 355, 348, 343, 339, 335, 331, 328, 325, 322, 320, 318, 316, 315, 314, 313, 313],
  [100, 115, 128, 140, 150, 160, 168, 176, 184, 192, 200, 207, 213, 219, 229, 224, 219, 215, 212, 209, 206, 204, 202, 200, 199, 198, 197, 196, 195, 195, 195],
  [50, 57, 64, 70, 76, 82, 87, 92, 97, 102, 107, 111, 115, 119, 130, 126, 123, 121, 119, 117, 116, 115, 114, 113, 112, 112, 111, 111, 110, 110, 110],
  [18, 22, 26, 30, 33, 36, 39, 42, 45, 48, 51, 54, 57, 60, 66, 64, 63, 62, 61, 60, 59, 59, 58, 58, 57, 57, 56, 56, 56, 55, 55],
  [288, 282, 305, 335, 355, 375, 393, 410, 425, 440, 455, 468, 482, 495, 516, 510, 503, 497, 492, 487, 483, 479, 476, 472, 469, 466, 463, 460, 458, 456, 454]
];
const c5 = [
  [15, 20, 26, 27, 33, 34, 39, 39, 44, 45, 49, 49, 53, 54, 57, 57, 61, 60, 64, 64, 68, 67, 71, 72, 75, 74, 78, 78, 82, 78, 71, 70, 65, 64, 60, 60, 56, 56, 53, 53, 50, 50, 47, 47, 44, 45, 42, 43, 40, 41, 38, 39, 36, 38, 35, 36, 33, 35, 32, 33, 31],
  [-1, 5, 7, 12, 12, 15, 15, 18, 17, 20, 19, 22, 21, 24, 23, 26, 24, 27, 26, 29, 28, 31, 30, 33, 32, 35, 34, 37, 39, 35, 35, 31, 31, 28, 28, 25, 25, 22, 23, 20, 21, 18, 19, 16, 17, 14, 15, 12, 14, 11, 12, 10, 11, 9, 10, 8, 9, 7, 8, 6, 6],
  [0, 3, 3, 7, 6, 9, 7, 10, 8, 11, 9, 12, 10, 13, 11, 14, 12, 15, 13, 16, 14, 17, 15, 18, 16, 19, 17, 20, 19, 17, 18, 15, 16, 14, 15, 12, 14, 11, 12, 10, 11, 9, 10, 8, 9, 7, 8, 6, 7, 5, 6, 4, 5, 3, 5, 3, 4, 2, 3, 1, 2],
  [-1, 1, 3, 2, 4, 3, 5, 4, 6, 5, 7, 5, 8, 6, 7, 9, 7, 8, 10, 8, 9, 11, 8, 10, 9, 11, 10, 9, 11, 10, 10, 8, 9, 7, 8, 6, 8, 6, 7, 5, 6, 4, 5, 6, 4, 5, 3, 4, 5, 3, 4, 2, 3, 1, 3, 2, 0, 2, 1, 0, 0],
  [-2, 0, 1, 3, 2, 4, 3, 5, 4, 6, 5, 7, 6, 5, 7, 6, 8, 7, 6, 8, 9, 7, 8, 10, 8, 9, 10, 8, 10, 9, 8, 9, 7, 8, 6, 7, 6, 5, 7, 5, 6, 4, 5, 3, 5, 4, 3, 4, 2, 3, 2, 3, 1, 2, 0, 2, 1, 0, 1, -1, 0]
];
// 1:1 fits for c5 (black lines)
const fitT = [58, 100, 150, 200, 250, 300, 350, 400, 450, 500, 550, 600, 650, 680];
const c5Fits = [
  [12, 27, 42, 54, 63, 72, 81, 65, 53, 45, 38, 33, 29, 27],
  [0, 10, 18, 25, 30, 35, 40, 32, 26, 22, 19, 16, 14, 13],
  [0, 5, 9, 12, 15, 18, 20, 16, 13, 11, 9, 8, 7, 6],
  [0, 3, 5, 7, 8, 9, 10, 8, 7, 6, 5, 4, 3, 3]
];
const c6 = [
  [3, 5, 4, 6, 5, 7, 4, 6, 8, 5, 7, 6, 9, 7, 8, 10, 7, 9, 8, 11, 9, 10, 8, 11, 9, 12, 10, 11, 13, 10, 7, 6, 5, 6, 4, 5, 4, 3, 4, 3, 4, 2, 3, 4, 2, 3, 1, 3, 2, 1, 3, 1, 2, 0, 2, 1, 3, 0, 1, 2, 0],
  [2, 4, 5, 3, 5, 4, 6, 5, 4, 6, 5, 7, 5, 6, 4, 6, 7, 5, 6, 7, 6, 5, 7, 6, 8, 6, 7, 5, 7, 6, 5, 6, 4, 5, 3, 4, 5, 3, 4, 2, 3, 4, 2, 3, 1, 3, 2, 1, 3, 2, 1, 2, 3, 1, 2, 0, 2, 1, 0, 1, 0],
  [3, 4, 3, 5, 4, 3, 5, 4, 6, 4, 5, 4, 3, 5, 4, 6, 4, 5, 3, 5, 4, 6, 5, 4, 6, 5, 4, 5, 6, 4, 4, 3, 4, 2, 3, 4, 2, 3, 2, 3, 2, 1, 3, 2, 1, 2, 0, 2, 1, 2, 1, 0, 2, 1, 0, 1, 2, 0, 1, 0, 1],
  [1, 2, 1, 3, 2, 1, 2, 3, 2, 1, 3, 2, 1, 3, 2, 4, 2, 3, 2, 3, 2, 3, 4, 2, 3, 4, 3, 2, 4, 3, 3, 2, 1, 2, 3, 1, 2, 1, 0, 2, 1, 0, 2, 1, 0, 1, -1, 1, 0, 1, 0, -1, 1, 0, -1, 0, 1, -1, 0, -2, -1],
  [-1, 0, -1, 1, 0, -2, 0, 1, -1, 0, -1, 1, 0, -1, 0, -2, 1, 0, -1, 0, 1, -1, 0, 1, -1, 0, 1, 0, -1, 1, 0, -1, 0, 1, -1, 0, -2, 0, -1, 0, -1, 0, -2, -1, 0, -1, -2, 0, -1, -2, -1, 0, -2, -1, 0, -1, -2, 0, -1, -1, -2]
];
const c7 = [
  [4, 6, 7, 8, 10, 9, 12, 13, 12, 15, 14, 16, 15, 17, 16, 18, 17, 19, 18, 20, 21, 19, 22, 21, 23, 22, 24, 23, 26, 24, 21, 22, 19, 20, 17, 18, 16, 17, 15, 16, 14, 15, 13, 14, 12, 13, 11, 12, 10, 11, 9, 10, 8, 9, 7, 8, 6, 7, 5, 6, 5],
  [3, 4, 5, 4, 6, 5, 7, 6, 5, 7, 6, 8, 6, 7, 5, 7, 8, 6, 8, 7, 9, 7, 8, 10, 8, 9, 7, 9, 10, 8, 7, 6, 7, 5, 6, 4, 6, 5, 4, 5, 3, 5, 4, 3, 5, 4, 3, 4, 2, 3, 4, 2, 3, 2, 3, 1, 3, 2, 1, 2, 1],
  [2, 3, 4, 5, 4, 6, 5, 7, 6, 5, 7, 6, 5, 7, 6, 5, 7, 6, 8, 6, 5, 6, 7, 5, 6, 4, 6, 5, 7, 5, 5, 4, 5, 3, 4, 3, 4, 2, 3, 4, 3, 2, 3, 4, 2, 3, 1, 2, 3, 1, 2, 1, 2, 0, 2, 1, 3, 1, 2, 0, 1],
  [3, 2, 4, 3, 2, 3, 1, 3, 2, 1, 2, 1, 3, 2, 1, 2, 0, 1, 2, 0, 1, 2, 0, 1, -1, 0, 1, -1, 0, -3, -4, -2, -3, -5, -2, -3, -4, -2, -3, -1, -2, -3, -1, -2, 0, -1, -2, 0, -1, 0, 1, -1, 0, 1, 0, -1, 1, 0, 2, 1, 0],
  [2, 3, 4, 2, 3, 1, 3, 2, 4, 2, 3, 1, 2, 3, 1, 2, 0, 2, 1, 0, 1, 0, -1, 1, 0, -2, 0, -1, -2, -7, -5, -4, -3, -5, -3, -4, -2, -3, -4, -2, -3, -2, -1, -3, -2, -1, 0, -2, -1, 0, 1, 0, 2, 1, 0, 2, 1, 3, 1, 2, 2]
];
const c8 = [
  [3, 5, 7, 8, 9, 11, 12, 11, 14, 13, 15, 14, 16, 17, 16, 18, 17, 19, 18, 20, 19, 21, 20, 22, 21, 23, 24, 25, 27, 25, 24, 22, 23, 20, 21, 18, 19, 16, 17, 15, 16, 14, 15, 13, 14, 12, 11, 12, 10, 11, 9, 10, 8, 9, 7, 8, 6, 5, 6, 4, 3],
  [2, 4, 5, 6, 5, 7, 6, 8, 7, 9, 8, 9, 8, 10, 9, 11, 9, 10, 11, 10, 11, 10, 12, 11, 13, 12, 11, 14, 16, 12, 11, 10, 11, 9, 10, 8, 9, 8, 7, 8, 7, 6, 7, 5, 6, 5, 4, 5, 3, 4, 4, 3, 2, 3, 2, 3, 1, 2, 1, 2, 1],
  [0, 1, 2, 1, 3, 2, 4, 3, 5, 4, 5, 6, 4, 6, 5, 7, 6, 5, 7, 6, 7, 8, 6, 7, 8, 9, 7, 8, 10, 8, 7, 8, 6, 7, 5, 6, 7, 5, 6, 4, 5, 4, 6, 3, 4, 5, 3, 4, 2, 3, 2, 3, 1, 2, 0, 2, 1, 0, 1, 0, 0],
  [-2, -1, -3, 0, -1, 1, 0, 2, 1, 3, 2, 1, 3, 2, 4, 1, 3, 2, 4, 3, 2, 4, 3, 5, 3, 4, 6, 4, 5, 4, 3, 5, 3, 2, 4, 3, 2, 1, 3, 1, 2, 0, 1, -1, 0, 1, -1, 0, -2, -1, -2, -1, -3, -2, -4, -1, -3, -2, -3, -2, -3],
  [5, 6, 7, 5, 8, 6, 7, 9, 7, 8, 6, 8, 9, 7, 8, 10, 8, 9, 7, 9, 8, 10, 7, 9, 8, 10, 9, 7, 9, 8, 9, 7, 8, 10, 8, 9, 7, 8, 6, 8, 7, 6, 8, 7, 5, 7, 6, 5, 7, 6, 5, 6, 4, 5, 6, 4, 5, 3, 5, 4, 5]
];

// panel placement (page px): axis box L/R/T/B, title position, RU label offset
const panels = [
  {d: a1, k: 0, L: 69, R: 320, T: 92, B: 239, y: [-20, 50], yt: yTicks50, tx: 43, ty: 68},
  {d: a2, k: 1, L: 424.5, R: 676, T: 92, B: 239, y: [-20, 50], yt: yTicks50, tx: 398.5, ty: 68},
  {d: a3, k: 2, L: 779.5, R: 1033, T: 92, B: 239, y: [-20, 50], yt: yTicks50, tx: 754.5, ty: 68},
  {d: a4, k: 3, L: 1144, R: 1392, T: 98, B: 240.5, y: [0, 500], yt: yTicks500, tx: 1113, ty: 68, line: true, ru: 56},
  {d: a5, k: 4, L: 69, R: 321, T: 353, B: 500, y: [-20, 50], yt: yTicks50, tx: 43, ty: 331.5},
  {d: a6, k: 5, L: 427, R: 678, T: 353, B: 500, y: [-20, 50], yt: yTicks50, tx: 402, ty: 331.5},
  {d: a7, k: 6, L: 785, R: 1038, T: 353, B: 500, y: [-20, 50], yt: yTicks50, tx: 759, ty: 331.5},
  {d: a8, k: 7, L: 1145, R: 1398, T: 353, B: 500, y: [-20, 50], yt: yTicks50, tx: 1113, ty: 331.5},

  {d: b1, k: 0, L: 69, R: 321, T: 669, B: 815, y: [-20, 50], yt: yTicks50, tx: 45.5, ty: 647},
  {d: b2, k: 1, L: 437.5, R: 689.5, T: 669, B: 815, y: [-20, 50], yt: yTicks50, tx: 402, ty: 647},
  {d: b3, k: 2, L: 785, R: 1038.5, T: 669, B: 815, y: [-20, 50], yt: yTicks50, tx: 758, ty: 647},
  {d: b4, k: 3, L: 1144, R: 1385, T: 679, B: 817.5, y: [0, 1500], yt: yTicks1500, tx: 1117, ty: 647, line: true, ru: 64, minor: true},
  {d: b5, k: 4, L: 70, R: 315, T: 936.5, B: 1078, y: [-20, 100], yt: yTicks100, tx: 45.5, ty: 910, ru: 55},
  {d: b6, k: 5, L: 437.5, R: 689.5, T: 930.5, B: 1077, y: [-20, 50], yt: yTicks50, tx: 404.5, ty: 905},
  {d: b7, k: 6, L: 785, R: 1038.5, T: 930.5, B: 1077, y: [-20, 50], yt: yTicks50, tx: 762, ty: 905},
  {d: b8, k: 7, L: 1145, R: 1398.5, T: 930.5, B: 1077, y: [-20, 50], yt: yTicks50, tx: 1116, ty: 905},

  {d: c1, k: 0, L: 70, R: 315, T: 1266.5, B: 1408.5, y: [-20, 100], yt: yTicks100b, tx: 43, ty: 1231, ru: 55},
  {d: c2, k: 1, L: 419, R: 671, T: 1264, B: 1411, y: [-20, 50], yt: yTicks50, tx: 398.5, ty: 1231},
  {d: c3, k: 2, L: 776, R: 1030.5, T: 1258, B: 1405, y: [-20, 50], yt: yTicks50, tx: 754.5, ty: 1231},
  {d: c4, k: 3, L: 1142, R: 1388, T: 1261, B: 1403, y: [0, 600], yt: yTicks600, tx: 1113, ty: 1231, line: true, ru: 56, minor: true},
  {d: c5, k: 4, L: 70, R: 325.5, T: 1519, B: 1667, y: [-20, 100], yt: yTicks100b, tx: 42.5, ty: 1492.5, fits: c5Fits, ru: 56},
  {d: c6, k: 5, L: 427, R: 678.5, T: 1520.5, B: 1667, y: [-20, 50], yt: yTicks50, tx: 402, ty: 1490.5},
  {d: c7, k: 6, L: 783.5, R: 1037.5, T: 1520.5, B: 1667.5, y: [-20, 50], yt: yTicks50, tx: 759, ty: 1490.5},
  {d: c8, k: 7, L: 1142.5, R: 1396, T: 1521.5, B: 1668, y: [-20, 50], yt: yTicks50, tx: 1113.5, ty: 1490.5}
];

// kinetic constants shown beside some panels
const kinetics = [
  {x: 1267.5, y: 70, kd: '2.3 ± 0.6', kon: '(4.9 ± 0.3)', koff: '(1.1 ± 0.3)'},
  {x: 1267.5, y: 646, kd: '10.4 ± 4.7', kon: '(7.4 ± 2.0)', koff: '(7.1 ± 1.7)'},
  {x: 187, y: 910, kd: '18.9 ± 7.1', kon: '(1.3 ± 0.7)', koff: '(1.9 ± 1.4)'},
  {x: 1257.5, y: 1230, kd: '2.2 ± 0.2', kon: '(47.4 ± 4.6)', koff: '(10.5 ± 2.1)', gap: 17},
  {x: 190, y: 1493, kd: '386.9 ± 69.4', kon: '(1.1 ± 0.2)', koff: '(44.7 ± 12.6)', gap: 17}
];

const page = document.getElementById('page');
const ink = '#231f20';
Chart.defaults.font.family = "'Liberation Sans', Arial, Helvetica, sans-serif";
Chart.defaults.color = ink;

function addText(cls, html, x, y) {
  const el = document.createElement('div');
  el.className = 'lbl ' + cls;
  el.innerHTML = html;
  el.style.left = x + 'px';
  el.style.top = y + 'px';
  page.appendChild(el);
}

// section letters and antibody headers
addText('letter', 'A', 15, 21);
addText('letter', 'B', 9, 593);
addText('letter', 'C', 9, 1171);
addText('head', antibodies[0], 732, 15);
addText('head', antibodies[1], 697.5, 598);
addText('head', antibodies[2], 725, 1168);
addText('nrf', 'N.R.F.', 255.5, 1233);

kinetics.forEach(k => {
  const gap = k.gap || 20;
  addText('ann', 'K<sub>D</sub> = ' + k.kd + ' nM', k.x, k.y);
  addText('ann', 'K<sub>on</sub> = ' + k.kon + '·10<sup>4</sup> M<sup>-1</sup>s<sup>-1</sup>', k.x, k.y + gap);
  addText('ann', 'K<sub>off</sub> = ' + k.koff + '·10<sup>-4</sup> s<sup>-1</sup>', k.x, k.y + 2 * gap);
});

const PL = 74, PR = 24, PT = 12, PB = 60;

// short ticks on the time axis of the sensorgram fits
const minorTickPlugin = {
  id: 'minorTicks',
  afterDraw(chart, args, opts) {
    if (!opts.show) return;
    const {ctx, chartArea} = chart;
    const xs = chart.scales.x;
    ctx.save();
    ctx.strokeStyle = ink;
    ctx.lineWidth = 1;
    xMinorTicks.forEach(v => {
      const px = Math.round(xs.getPixelForValue(v)) + 0.5;
      ctx.beginPath();
      ctx.moveTo(px, chartArea.bottom);
      ctx.lineTo(px, chartArea.bottom + 3);
      ctx.stroke();
    });
    ctx.restore();
  }
};

function pts(xs, ys, from, to) {
  const out = [];
  for (let i = from; i <= to && i < ys.length; i++) out.push({x: xs[i], y: ys[i]});
  return out;
}

panels.forEach(p => {
  addText('ptitle', 'Antigen: ' + antigens[p.k], p.tx, p.ty);

  const cv = document.createElement('canvas');
  const w = Math.round(p.R - p.L) + PL + PR;
  const h = Math.round(p.B - p.T) + PT + PB;
  cv.width = w; cv.height = h;
  cv.style.left = Math.round(p.L - PL) + 'px';
  cv.style.top = Math.round(p.T - PT) + 'px';
  page.appendChild(cv);

  const ds = [];
  if (p.fits) {
    p.fits.forEach(f => {
      [[0, 6], [6, fitT.length - 1]].forEach(([a, b]) => ds.push({
        data: pts(fitT, f, a, b), showLine: true, borderColor: '#111', borderWidth: 1.6,
        pointRadius: 0, cubicInterpolationMode: 'monotone'
      }));
    });
  }
  // purple first so it is painted on top
  for (let s = 4; s >= 0; s--) {
    const ys = p.d[s];
    if (p.line) {
      [[0, 14], [14, tLine.length - 1]].forEach(([a, b]) => ds.push({
        data: pts(tLine, ys, a, b), showLine: true, borderColor: concColors[s], borderWidth: 2.2,
        pointRadius: 0, cubicInterpolationMode: 'monotone'
      }));
    } else {
      ds.push({
        data: pts(t, ys, 0, t.length - 1), showLine: false, pointRadius: 1.6, pointBorderWidth: 0,
        backgroundColor: concColors[s], borderColor: concColors[s]
      });
    }
  }
  if (!p.line) {
    ds.push({
      data: pts(baseT, baseY, 0, 1), showLine: true, borderColor: '#222', borderWidth: 1.3,
      borderDash: [1.3, 6], pointRadius: 0
    });
  }

  const ruOff = p.ru || 47;

  new Chart(cv, {
    type: 'scatter',
    data: {datasets: ds},
    plugins: [minorTickPlugin],
    options: {
      responsive: false,
      animation: false,
      devicePixelRatio: 1,
      layout: {padding: {top: PT, right: PR, left: 0, bottom: 0}},
      plugins: {legend: {display: false}, tooltip: {enabled: false}, minorTicks: {show: !!p.minor}},
      scales: {
        x: {
          type: 'linear', min: 55, max: 700,
          afterBuildTicks: s => { s.ticks = xTicks.map(v => ({value: v})); },
          afterFit: s => { s.height = PB; },
          grid: {drawOnChartArea: false, tickLength: 6, color: ink, lineWidth: 1.5},
          border: {color: ink, width: 1.6},
          ticks: {font: {size: 16, weight: 'bold'}, padding: 6, maxRotation: 0, color: ink, callback: v => String(v)},
          title: {display: true, text: 'Time (s)', font: {size: 16.5, weight: 'bold'}, color: ink, padding: {top: 0, bottom: 7}}
        },
        y: {
          type: 'linear', min: p.y[0], max: p.y[1],
          afterBuildTicks: s => { s.ticks = p.yt.map(v => ({value: v})); },
          afterFit: s => { s.width = PL; },
          grid: {drawOnChartArea: false, tickLength: 6, color: ink, lineWidth: 1.5},
          border: {color: ink, width: 1.6},
          ticks: {font: {size: 16, weight: 'bold'}, padding: 7, color: ink, callback: v => String(v)},
          title: {display: true, text: 'RU', font: {size: 17, weight: 'bold'}, color: ink,
                  padding: {top: Math.max(0, PL - ruOff - 10.2), bottom: 0}}
        }
      }
    }
  });
});
</script>
</body>
</html>
